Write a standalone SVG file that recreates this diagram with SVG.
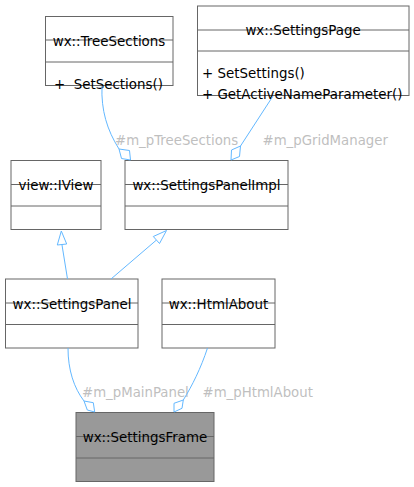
<svg xmlns="http://www.w3.org/2000/svg" width="414" height="487" viewBox="0 0 414 487">
<style>
.box{fill:#ffffff;stroke:#666666;stroke-width:1}
.sep{stroke:#666666;stroke-width:1;fill:none}
.t{font-family:"DejaVu Sans",sans-serif;font-size:13.4px;fill:#000000}
.c{text-anchor:middle}
.lbl{font-family:"DejaVu Sans",sans-serif;font-size:13.3px;fill:#bfbfbf}
.e{stroke:#63b8ff;stroke-width:1;fill:none}
.hd{stroke:#63b8ff;stroke-width:1;fill:#ffffff}
</style>
<rect width="414" height="487" fill="#ffffff"/>
<g id="node-TreeSections">
<rect class="box" x="45.5" y="16.5" width="127.5" height="69"/>
<line class="sep" x1="45.5" y1="40" x2="173" y2="40"/>
<line class="sep" x1="45.5" y1="62" x2="173" y2="62"/>
<text class="t c" x="109" y="46">wx::TreeSections</text>
<text class="t" x="54" y="88.5" xml:space="preserve">+  SetSections()</text>
</g>
<g id="node-SettingsPage">
<rect class="box" x="197.5" y="6" width="211.5" height="89.5"/>
<line class="sep" x1="197.5" y1="30" x2="409" y2="30"/>
<line class="sep" x1="197.5" y1="51" x2="409" y2="51"/>
<text class="t c" x="303" y="35">wx::SettingsPage</text>
<text class="t" x="202" y="78">+ SetSettings()</text>
<text class="t" x="202" y="99">+ GetActiveNameParameter()</text>
</g>
<g id="node-IView">
<rect class="box" x="11" y="160.5" width="90" height="69"/>
<line class="sep" x1="11" y1="184.5" x2="101" y2="184.5"/>
<line class="sep" x1="11" y1="206" x2="101" y2="206"/>
<text class="t c" x="56" y="190">view::IView</text>
</g>
<g id="node-SettingsPanelImpl">
<rect class="box" x="125" y="160.5" width="163" height="69"/>
<line class="sep" x1="125" y1="184.5" x2="288" y2="184.5"/>
<line class="sep" x1="125" y1="206" x2="288" y2="206"/>
<text class="t c" x="206.5" y="190">wx::SettingsPanelImpl</text>
</g>
<g id="node-SettingsPanel">
<rect class="box" x="5.5" y="279" width="132.5" height="69"/>
<line class="sep" x1="5.5" y1="303" x2="138" y2="303"/>
<line class="sep" x1="5.5" y1="324.5" x2="138" y2="324.5"/>
<text class="t c" x="72" y="308.5">wx::SettingsPanel</text>
</g>
<g id="node-HtmlAbout">
<rect class="box" x="162" y="279" width="113" height="69"/>
<line class="sep" x1="162" y1="303" x2="275" y2="303"/>
<line class="sep" x1="162" y1="324.5" x2="275" y2="324.5"/>
<text class="t c" x="218.5" y="308.5">wx::HtmlAbout</text>
</g>
<g id="node-SettingsFrame">
<rect class="box" x="76" y="412.5" width="138" height="69" style="fill:#999999"/>
<line class="sep" x1="76" y1="436.5" x2="214" y2="436.5"/>
<line class="sep" x1="76" y1="458" x2="214" y2="458"/>
<text class="t c" x="145" y="442">wx::SettingsFrame</text>
</g>
<g id="connectors">
<path class="e" d="M102,86 C101,110 107,130 119,149"/>
<polygon class="hd" points="119,149 129.5,150.5 130.5,160 121.5,158.5"/>
<text class="lbl" x="115" y="145">#m_pTreeSections</text>
<path class="e" d="M273,96 L240.5,146"/>
<polygon class="hd" points="240.5,146 239.5,156.5 231,160 231.5,150"/>
<text class="lbl" x="262.5" y="145">#m_pGridManager</text>
<path class="e" d="M67.5,279 L62,245"/>
<polygon class="hd" points="57.3,245 61.3,231 66.7,244"/>
<path class="e" d="M111,279 L156.5,240"/>
<polygon class="hd" points="153.3,236.5 166.5,230.5 159.5,243.5"/>
<path class="e" d="M68,348 C68,370 74,388 84,401"/>
<polygon class="hd" points="84,401 93.3,402.7 94.7,412 87.3,410"/>
<text class="lbl" x="82" y="396.5">#m_pMainPanel</text>
<path class="e" d="M207.5,348 C201,368 192,386 183.3,400"/>
<polygon class="hd" points="183.3,400 182,408.3 174,412 174,403.3"/>
<text class="lbl" x="202.5" y="396.5">#m_pHtmlAbout</text>
</g>
</svg>
